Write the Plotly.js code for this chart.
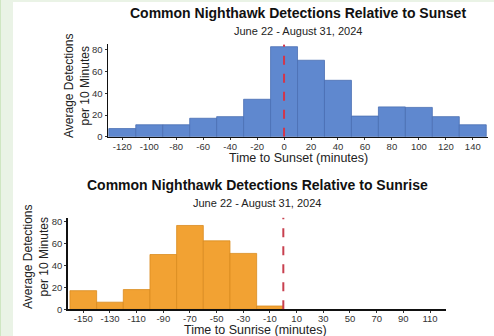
<!DOCTYPE html>
<html>
<head>
<meta charset="utf-8">
<script src="https://cdn.plot.ly/plotly-3.0.1.min.js"></script>
<style>
  html, body { margin: 0; padding: 0; background: #eaf3e6; width: 494px; height: 336px; overflow: hidden; }
  #edge { position: absolute; left: 0; top: 0; width: 1px; height: 336px; background: #cfe6c2; }
  #chart { position: absolute; left: 13px; top: 2px; width: 481px; height: 334px; background: #fff; }
</style>
</head>
<body>
<div id="edge"></div>
<div id="chart"></div>
<script>
// ---- data ----
const sunsetBins = [-120, -100, -80, -60, -40, -20, 0, 20, 40, 60, 80, 100, 120, 140];
const sunsetDetections = [7.5, 11, 11, 17, 18.5, 34.5, 83, 70.5, 52, 19, 27.5, 27, 18.5, 11];
const sunriseBins = [-150, -130, -110, -90, -70, -50, -30, -10];
const sunriseDetections = [17, 6.5, 18, 50, 76.5, 62.5, 51, 3];
const sunsetTicks = [-120, -100, -80, -60, -40, -20, 0, 20, 40, 60, 80, 100, 120, 140];
const sunriseTicks = [-150, -130, -110, -90, -70, -50, -30, -10, 10, 30, 50, 70, 90, 110];
const yTicks = [0, 20, 40, 60, 80];
const binWidth = 20;
const eventTime = 0;

const W = 481, H = 334, OX = 13, OY = 2;
const px = x => (x - OX) / W;
const py = y => 1 - (y - OY) / H;

const font = 'Liberation Sans, Arial, Helvetica, sans-serif';
const tickFont = { family: font, size: 9.5, color: '#333' };
const xTitleFont = { family: font, size: 12.5, color: '#222' };
const yTitleFont = { family: font, size: 12, color: '#222' };

const traces = [
  {
    type: 'bar', x: sunsetBins, y: sunsetDetections, width: binWidth,
    marker: { color: '#5f88cf', line: { color: '#4a6fb3', width: 0.8 } },
    xaxis: 'x', yaxis: 'y', hoverinfo: 'x+y'
  },
  {
    type: 'bar', x: sunriseBins, y: sunriseDetections, width: binWidth,
    marker: { color: '#f2a233', line: { color: '#d98b1f', width: 0.8 } },
    xaxis: 'x2', yaxis: 'y2', hoverinfo: 'x+y'
  }
];

const axisCommon = {
  showgrid: false, zeroline: false, showline: true, linecolor: '#111', linewidth: 1.5,
  ticks: 'outside', ticklen: 2, tickwidth: 1, tickcolor: '#333', tickfont: tickFont,
  fixedrange: true
};
const lab = v => String(v);

const layout = {
  width: W, height: H,
  margin: { l: 0, r: 0, t: 0, b: 0 },
  paper_bgcolor: '#ffffff', plot_bgcolor: '#ffffff',
  showlegend: false, bargap: 0,
  xaxis: Object.assign({}, axisCommon, {
    domain: [px(108), px(488)], range: [-130.6, 151.3], anchor: 'y',
    tickvals: sunsetTicks, ticktext: sunsetTicks.map(lab), ticklabelstandoff: -2
  }),
  yaxis: Object.assign({}, axisCommon, {
    domain: [py(136.7), py(44.3)], range: [0, 85.2], anchor: 'x',
    tickvals: yTicks, ticktext: yTicks.map(lab)
  }),
  xaxis2: Object.assign({}, axisCommon, {
    domain: [px(67.7), px(446)], range: [-161.7, 122], anchor: 'y2',
    tickvals: sunriseTicks, ticktext: sunriseTicks.map(lab), ticklabelstandoff: -2
  }),
  yaxis2: Object.assign({}, axisCommon, {
    domain: [py(309.3), py(217.7)], range: [0, 83.6], anchor: 'x2',
    tickvals: yTicks, ticktext: yTicks.map(lab)
  }),
  shapes: [
    { type: 'line', xref: 'x', yref: 'y', x0: eventTime, x1: eventTime, y0: 0, y1: 85,
      line: { color: '#d2364b', width: 2, dash: 'dash' } },
    { type: 'line', xref: 'x2', yref: 'y2', x0: eventTime, x1: eventTime, y0: 0, y1: 84,
      line: { color: '#c8404f', width: 2, dash: 'dash' } }
  ],
  annotations: [
    { text: '<b>Common Nighthawk Detections Relative to Sunset</b>', xref: 'paper', yref: 'paper',
      x: px(298), y: py(13.3), xanchor: 'center', yanchor: 'middle', showarrow: false,
      font: { family: font, size: 14, color: '#111' } },
    { text: 'June 22 - August 31, 2024', xref: 'paper', yref: 'paper',
      x: px(298), y: py(30.7), xanchor: 'center', yanchor: 'middle', showarrow: false,
      font: { family: font, size: 11, color: '#222' } },
    { text: 'Time to Sunset (minutes)', xref: 'paper', yref: 'paper',
      x: px(298), y: py(158), xanchor: 'center', yanchor: 'middle', showarrow: false,
      font: xTitleFont },
    { text: 'Average Detections<br>per 10 Minutes', xref: 'paper', yref: 'paper',
      x: px(77), y: py(86), xanchor: 'center', yanchor: 'middle', showarrow: false,
      textangle: -90, font: yTitleFont },
    { text: '<b>Common Nighthawk Detections Relative to Sunrise</b>', xref: 'paper', yref: 'paper',
      x: px(257.5), y: py(185), xanchor: 'center', yanchor: 'middle', showarrow: false,
      font: { family: font, size: 14, color: '#111' } },
    { text: 'June 22 - August 31, 2024', xref: 'paper', yref: 'paper',
      x: px(256.7), y: py(202.7), xanchor: 'center', yanchor: 'middle', showarrow: false,
      font: { family: font, size: 11, color: '#222' } },
    { text: 'Time to Sunrise (minutes)', xref: 'paper', yref: 'paper',
      x: px(255), y: py(329.5), xanchor: 'center', yanchor: 'middle', showarrow: false,
      font: xTitleFont },
    { text: 'Average Detections<br>per 10 Minutes', xref: 'paper', yref: 'paper',
      x: px(36), y: py(257), xanchor: 'center', yanchor: 'middle', showarrow: false,
      textangle: -90, font: yTitleFont }
  ]
};

Plotly.newPlot('chart', traces, layout, { staticPlot: true, displayModeBar: false });
</script>
</body>
</html>
